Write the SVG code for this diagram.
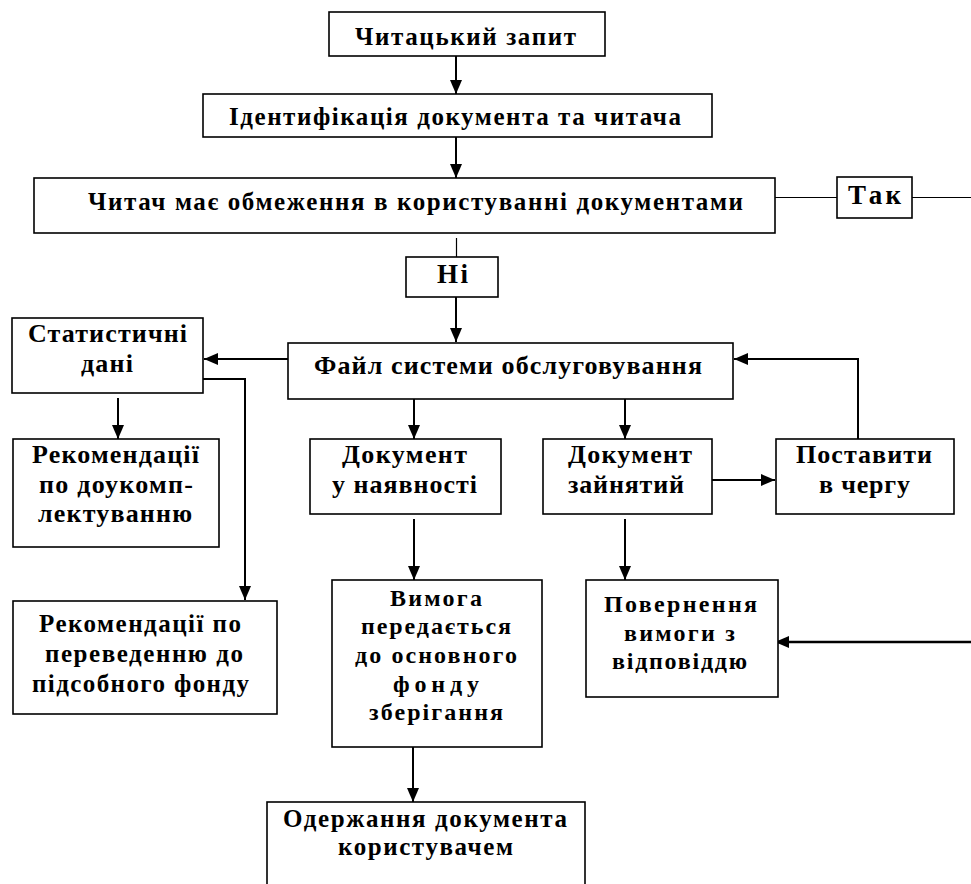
<svg xmlns="http://www.w3.org/2000/svg" width="971" height="884" viewBox="0 0 971 884">
<style>
.box{fill:#fff;stroke:#000;stroke-width:1.6}
.t{font-family:"Liberation Serif","Times New Roman",serif;font-weight:bold;fill:#000;font-size:25px}
.b{font-size:26px}
.s{font-size:24px}
.l{font-size:27px}
.c{fill:none;stroke:#000;stroke-width:2}
.thin{fill:none;stroke:#000;stroke-width:1.2}
</style>
<defs>
<marker id="ah" markerUnits="userSpaceOnUse" markerWidth="15" markerHeight="13" refX="14" refY="6" orient="auto">
<path d="M0,0 L14,6 L0,12 z" fill="#000"/>
</marker>
</defs>
<rect width="971" height="884" fill="#fff"/>

<g id="connectors">
<line class="c" x1="456" y1="56" x2="456" y2="94" marker-end="url(#ah)"/>
<line class="c" x1="456" y1="137" x2="456" y2="178" marker-end="url(#ah)"/>
<line class="thin" x1="775" y1="197.5" x2="837" y2="197.5"/>
<line class="thin" x1="912" y1="197.5" x2="971" y2="197.5"/>
<line class="thin" x1="456.5" y1="238" x2="456.5" y2="257"/>
<line class="c" x1="456" y1="297" x2="456" y2="342" marker-end="url(#ah)"/>
<line class="c" x1="288" y1="359" x2="204" y2="359" marker-end="url(#ah)"/>
<polyline class="c" points="203,379 245,379 245,600" marker-end="url(#ah)"/>
<line class="c" x1="118" y1="398" x2="118" y2="439" marker-end="url(#ah)"/>
<line class="c" x1="414" y1="399" x2="414" y2="439" marker-end="url(#ah)"/>
<line class="c" x1="625" y1="399" x2="625" y2="439" marker-end="url(#ah)"/>
<line class="c" x1="709" y1="480" x2="775" y2="480" marker-end="url(#ah)"/>
<polyline class="c" points="858,439 858,359 734,359" marker-end="url(#ah)"/>
<line class="c" x1="414" y1="519" x2="414" y2="580" marker-end="url(#ah)"/>
<line class="c" x1="625" y1="519" x2="625" y2="580" marker-end="url(#ah)"/>
<line class="c" x1="971" y1="642" x2="775" y2="642" marker-end="url(#ah)" style="stroke-width:2.5"/>
<line class="c" x1="413" y1="742" x2="413" y2="802" marker-end="url(#ah)"/>
</g>

<g id="n1"><rect class="box" x="329" y="12" width="276" height="44"/>
<text class="t" x="355" y="45" textLength="221" lengthAdjust="spacing">Читацький запит</text></g>

<g id="n2"><rect class="box" x="203" y="94" width="509" height="43"/>
<text class="t" x="229" y="125" textLength="452" lengthAdjust="spacing">Ідентифікація документа та читача</text></g>

<g id="n3"><rect class="box" x="34" y="178" width="741" height="55"/>
<text class="t" x="88" y="210" textLength="655" lengthAdjust="spacing">Читач має обмеження в користуванні документами</text></g>

<g id="n_tak"><rect class="box" x="837" y="177" width="75" height="41"/>
<text class="t l" x="848" y="204" textLength="53" lengthAdjust="spacing">Так</text></g>

<g id="n_ni"><rect class="box" x="406" y="257" width="92" height="40"/>
<text class="t l" x="437" y="283" textLength="31" lengthAdjust="spacing">Ні</text></g>

<g id="n_stat"><rect class="box" x="12" y="318" width="191" height="75"/>
<text class="t b" x="28" y="342" textLength="159" lengthAdjust="spacing">Статистичні</text>
<text class="t b" x="81" y="372" textLength="52" lengthAdjust="spacing">дані</text></g>

<g id="n_file"><rect class="box" x="288" y="343" width="445" height="56"/>
<text class="t b" x="314" y="374" textLength="388" lengthAdjust="spacing">Файл системи обслуговування</text></g>

<g id="n_rec1"><rect class="box" x="13" y="439" width="206" height="108"/>
<text class="t b" x="32" y="463" textLength="167" lengthAdjust="spacing">Рекомендації</text>
<text class="t b" x="39" y="493" textLength="154" lengthAdjust="spacing">по доукомп-</text>
<text class="t b" x="38" y="522" textLength="154" lengthAdjust="spacing">лектуванню</text></g>

<g id="n_avail"><rect class="box" x="310" y="439" width="191" height="75"/>
<text class="t b" x="342" y="463" textLength="125" lengthAdjust="spacing">Документ</text>
<text class="t b" x="332" y="493" textLength="145" lengthAdjust="spacing">у наявності</text></g>

<g id="n_busy"><rect class="box" x="543" y="439" width="169" height="75"/>
<text class="t b" x="568" y="463" textLength="124" lengthAdjust="spacing">Документ</text>
<text class="t b" x="568" y="493" textLength="116" lengthAdjust="spacing">зайнятий</text></g>

<g id="n_queue"><rect class="box" x="776" y="439" width="178" height="75"/>
<text class="t b" x="796" y="463" textLength="136" lengthAdjust="spacing">Поставити</text>
<text class="t b" x="819" y="493" textLength="91" lengthAdjust="spacing">в чергу</text></g>

<g id="n_rec2"><rect class="box" x="13" y="601" width="264" height="113"/>
<text class="t" x="39" y="632" textLength="202" lengthAdjust="spacing">Рекомендації по</text>
<text class="t" x="45" y="662" textLength="198" lengthAdjust="spacing">переведенню до</text>
<text class="t" x="32" y="692" textLength="217" lengthAdjust="spacing">підсобного фонду</text></g>

<g id="n_req"><rect class="box" x="332" y="580" width="210" height="167"/>
<text class="t s" x="390" y="606" textLength="92" lengthAdjust="spacing">Вимога</text>
<text class="t s" x="361" y="634" textLength="150" lengthAdjust="spacing">передається</text>
<text class="t s" x="355" y="663" textLength="162" lengthAdjust="spacing">до основного</text>
<text class="t s" x="393" y="692" textLength="86" lengthAdjust="spacing">фонду</text>
<text class="t s" x="369" y="720" textLength="134" lengthAdjust="spacing">зберігання</text></g>

<g id="n_ret"><rect class="box" x="586" y="580" width="192" height="117"/>
<text class="t s" x="604" y="612" textLength="153" lengthAdjust="spacing">Повернення</text>
<text class="t s" x="624" y="641" textLength="111" lengthAdjust="spacing">вимоги з</text>
<text class="t s" x="612" y="669" textLength="135" lengthAdjust="spacing">відповіддю</text></g>

<g id="n_get"><rect class="box" x="267" y="802" width="318" height="100"/>
<text class="t" x="283" y="827" textLength="284" lengthAdjust="spacing">Одержання документа</text>
<text class="t" x="338" y="855" textLength="175" lengthAdjust="spacing">користувачем</text></g>
</svg>
